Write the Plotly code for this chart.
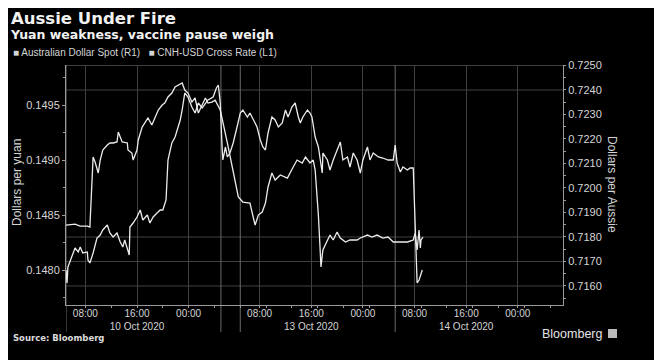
import plotly.graph_objects as go

# ---------------- data ----------------
# x = hours on a compressed session axis (0 = start of first session, weekend collapsed)
cnh_hours = [0.0, 1.4, 2.2, 3.3, 3.7, 4.2, 4.5, 5.0, 5.3, 5.7, 6.4, 6.8, 7.3, 7.9, 8.1, 8.7, 9.5, 9.6,
             10.2, 10.4, 11.0, 11.2, 11.8, 12.2, 12.7, 13.3, 13.8, 14.3, 14.9, 15.3, 15.8, 16.4, 16.9,
             17.4, 18.0, 18.4, 18.9, 19.5, 20.0, 20.5, 21.1, 21.6, 22.0, 22.6, 23.1, 23.6, 23.9, 25.0,
             25.9, 26.7, 27.4, 28.5, 29.0, 29.3, 29.8, 30.4, 30.9, 31.3, 31.9, 32.4, 33.2, 34.3, 35.2,
             35.8, 36.6, 37.1, 37.8, 38.3, 38.6, 39.1, 39.4, 39.5, 39.8, 40.5, 40.9, 41.4, 42.0, 42.5,
             43.3, 44.0, 45.1, 45.6, 46.7, 47.4, 48.2, 49.1, 49.9, 50.7, 51.8, 52.9, 53.8, 54.1, 54.4,
             54.7, 54.9, 55.0, 55.3]
cnh_values = [0.148409, 0.148418, 0.148400, 0.148400, 0.148391, 0.149027, 0.148982, 0.148882, 0.149000,
              0.149091, 0.149136, 0.149155, 0.149155, 0.149164, 0.149255, 0.149164, 0.149155, 0.149091,
              0.149064, 0.149000, 0.149091, 0.149182, 0.149300, 0.149336, 0.149382, 0.149318, 0.149391,
              0.149455, 0.149500, 0.149518, 0.149573, 0.149609, 0.149664, 0.149682, 0.149700, 0.149636,
              0.149609, 0.149527, 0.149564, 0.149427, 0.149500, 0.149564, 0.149518, 0.149527, 0.149545,
              0.149482, 0.149455, 0.149155, 0.148909, 0.148664, 0.148618, 0.148609, 0.148482, 0.148409,
              0.148500, 0.148527, 0.148609, 0.148755, 0.148882, 0.148818, 0.148864, 0.148836, 0.148936,
              0.149000, 0.148973, 0.149027, 0.148973, 0.149000, 0.148909, 0.148500, 0.148155, 0.148027,
              0.148182, 0.148273, 0.148318, 0.148273, 0.148345, 0.148291, 0.148255, 0.148273, 0.148273,
              0.148291, 0.148318, 0.148300, 0.148318, 0.148291, 0.148300, 0.148255, 0.148255, 0.148255,
              0.148273, 0.148336, 0.148182, 0.148364, 0.148200, 0.148273, 0.148300]

aud_hours = [0.0, 0.16, 0.3, 0.9, 1.4, 1.9, 2.2, 2.6, 3.3, 3.4, 3.7, 4.2, 4.8, 5.3, 5.7, 6.4, 6.8, 7.3,
             7.9, 8.4, 8.8, 9.1, 9.5, 9.8, 9.9, 10.4, 11.0, 11.5, 11.9, 12.6, 13.0, 13.5, 14.1, 14.6,
             15.0, 15.5, 15.8, 16.4, 16.9, 17.4, 17.7, 18.0, 18.4, 18.9, 19.5, 20.0, 20.5, 21.1, 21.6,
             22.0, 22.8, 23.3, 23.6, 23.9, 24.2, 24.3, 24.7, 25.0, 25.4, 25.9, 26.5, 27.0, 27.4, 28.1,
             28.5, 29.0, 29.6, 30.1, 30.5, 30.9, 31.3, 31.9, 32.4, 32.9, 33.5, 34.0, 34.4, 35.0, 35.5,
             36.0, 36.3, 36.7, 37.4, 37.8, 38.1, 38.6, 39.1, 39.7, 39.8, 40.5, 40.9, 41.4, 42.0, 42.5,
             42.9, 43.6, 44.0, 44.5, 45.1, 45.6, 46.0, 46.7, 47.1, 47.6, 48.4, 49.1, 49.9, 50.7, 51.0,
             51.3, 51.8, 52.2, 52.9, 53.3, 53.8, 54.1, 54.4, 54.7, 55.2]
aud_values = [0.716653, 0.716122, 0.716776, 0.717184, 0.717551, 0.717388, 0.717592, 0.717347, 0.717388,
              0.717061, 0.716939, 0.717347, 0.717959, 0.718082, 0.718286, 0.718490, 0.718163, 0.718000,
              0.718163, 0.717796, 0.717592, 0.717878, 0.717469, 0.717265, 0.718408, 0.718571, 0.718816,
              0.719102, 0.718694, 0.718898, 0.718571, 0.718816, 0.718980, 0.719102, 0.719102, 0.719510,
              0.721143, 0.721837, 0.722082, 0.722490, 0.722776, 0.723184, 0.723878, 0.723714, 0.723306,
              0.723061, 0.723469, 0.723265, 0.723469, 0.723592, 0.723714, 0.724082, 0.724204, 0.723469,
              0.721551, 0.721143, 0.721673, 0.721265, 0.721429, 0.721837, 0.722490, 0.723061, 0.723184,
              0.722898, 0.723061, 0.722776, 0.722490, 0.721959, 0.721673, 0.721551, 0.722245, 0.722898,
              0.722776, 0.722490, 0.722653, 0.723184, 0.722898, 0.723306, 0.723469, 0.722898, 0.722653,
              0.722898, 0.723184, 0.723061, 0.722898, 0.722082, 0.721673, 0.720612, 0.721429, 0.721143,
              0.720735, 0.721143, 0.721551, 0.721878, 0.721143, 0.721265, 0.720857, 0.721429, 0.721143,
              0.720612, 0.721143, 0.721673, 0.721143, 0.721429, 0.721265, 0.721224, 0.721143, 0.721143,
              0.721755, 0.721020, 0.720653, 0.720857, 0.720735, 0.720816, 0.720816, 0.718408, 0.716122,
              0.716245, 0.716653]

tick_hours = [3, 11, 19, 30, 38, 46, 54, 62, 70]
tick_labels = ["08:00", "16:00<br>10 Oct 2020", "00:00",
               "08:00", "16:00<br>13 Oct 2020", "00:00",
               "08:00", "16:00<br>14 Oct 2020", "00:00"]
session_breaks = [0, 24, 27, 51]
aud_grid_levels = [0.7250, 0.7240, 0.7180, 0.7170, 0.7160]

title = "Aussie Under Fire"
subtitle = "Yuan weakness, vaccine pause weigh"
aud_name = "Australian Dollar Spot (R1)"
cnh_name = "CNH-USD Cross Rate (L1)"

# ---------------- figure ----------------
FONT = "Liberation Sans, Arial, sans-serif"
LINE = "#ececec"
TXT = "#d4d4d4"
GRID = "#404040"
AX = "#9a9a9a"

PLOT_H = 240.0
PLOT_W = 497.0


def py(pix):
    # screen row -> paper y (plot spans rows 65..305 on screen)
    return (305 - pix) / PLOT_H


def px(pix):
    # screen column -> paper x (plot spans columns 66..563 on screen)
    return (pix - 66) / PLOT_W


fig = go.Figure()
fig.add_trace(go.Scatter(x=cnh_hours, y=cnh_values, mode="lines", name=cnh_name,
                         line=dict(color=LINE, width=1.3), yaxis="y"))
fig.add_trace(go.Scatter(x=aud_hours, y=aud_values, mode="lines", name=aud_name,
                         line=dict(color=LINE, width=1.3), yaxis="y2"))

shapes = []
for lv in aud_grid_levels:
    shapes.append(dict(type="line", xref="paper", x0=0, x1=1, yref="y2", y0=lv, y1=lv,
                       line=dict(color=GRID, width=1), layer="below"))
for b in session_breaks:
    shapes.append(dict(type="line", xref="x", x0=b, x1=b, yref="paper", y0=py(332), y1=1,
                       line=dict(color="#6a6a6a", width=1), layer="below"))
# logo square
shapes.append(dict(type="rect", xref="paper", yref="paper", x0=px(608), x1=px(617), y0=py(338), y1=py(329),
                   fillcolor="#bbbbbb", line=dict(width=0)))

fig.update_layout(
    width=662, height=360,
    paper_bgcolor="black", plot_bgcolor="black",
    margin=dict(l=58, r=107, t=57, b=63, autoexpand=False),
    showlegend=False,
    font=dict(family=FONT, color=TXT, size=10),
    shapes=shapes,
    xaxis=dict(range=[0, 77], tickvals=tick_hours, ticktext=tick_labels, automargin=False,
               showgrid=True, gridcolor=GRID, gridwidth=1, zeroline=False,
               showline=True, linecolor=AX, linewidth=1,
               ticks="outside", ticklen=2, tickcolor=AX, ticklabelstandoff=-3,
               minor=dict(dtick=4, tick0=3, ticks="outside", ticklen=2, tickcolor=AX, showgrid=False),
               tickfont=dict(size=10, color=TXT)),
    yaxis=dict(range=[0.147682, 0.149864], tickvals=[0.1480, 0.1485, 0.1490, 0.1495], automargin=False,
               tickformat=".4f", showgrid=False, zeroline=False,
               showline=True, linecolor=AX, linewidth=1,
               ticks="outside", ticklen=3, tickcolor=AX,
               minor=dict(dtick=0.00025, tick0=0.1480, ticks="outside", ticklen=2, tickcolor=AX),
               tickfont=dict(size=11, color=TXT)),
    yaxis2=dict(range=[0.715224, 0.72502], overlaying="y", side="right", automargin=False,
                tickvals=[0.7160, 0.7170, 0.7180, 0.7190, 0.7200, 0.7210, 0.7220, 0.7230, 0.7240, 0.7250],
                tickformat=".4f", showgrid=False, zeroline=False,
                showline=True, linecolor=AX, linewidth=1,
                ticks="outside", ticklen=2, tickcolor=AX,
                minor=dict(dtick=0.0005, tick0=0.7160, ticks="outside", ticklen=2, tickcolor=AX),
                tickfont=dict(size=11, color=TXT)),
    annotations=[
        dict(text="<b>" + title + "</b>", xref="paper", yref="paper", x=px(9), y=py(18),
             xanchor="left", yanchor="middle", showarrow=False,
             font=dict(family="DejaVu Sans, sans-serif", size=16.5, color="#f2f2f2")),
        dict(text="<b>" + subtitle + "</b>", xref="paper", yref="paper", x=px(8), y=py(34),
             xanchor="left", yanchor="middle", showarrow=False,
             font=dict(family="DejaVu Sans, sans-serif", size=12.5, color="#f2f2f2")),
        dict(text="■ " + aud_name + "   ■ " + cnh_name, xref="paper", yref="paper", x=px(11), y=py(53),
             xanchor="left", yanchor="middle", showarrow=False,
             font=dict(family=FONT, size=10, color=TXT)),
        dict(text="Dollars per yuan", xref="paper", yref="paper", x=px(17), y=py(183),
             xanchor="center", yanchor="middle", textangle=-90, showarrow=False,
             font=dict(family=FONT, size=12, color=TXT)),
        dict(text="Dollars per Aussie", xref="paper", yref="paper", x=px(612), y=py(184),
             xanchor="center", yanchor="middle", textangle=90, showarrow=False,
             font=dict(family=FONT, size=12, color=TXT)),
        dict(text="<b>Source: Bloomberg</b>", xref="paper", yref="paper", x=px(11), y=py(338),
             xanchor="left", yanchor="middle", showarrow=False,
             font=dict(family="DejaVu Sans, sans-serif", size=8.5, color="#dcdcdc")),
        dict(text="Bloomberg", xref="paper", yref="paper", x=px(604), y=py(334),
             xanchor="right", yanchor="middle", showarrow=False,
             font=dict(family=FONT, size=12.5, color="#e4e4e4")),
    ],
)

fig.write_html("out.html")
